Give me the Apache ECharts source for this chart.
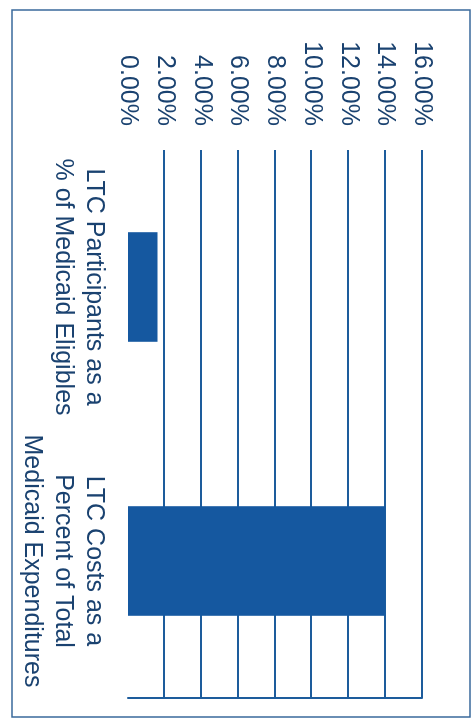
<!DOCTYPE html>
<html>
<head>
<meta charset="utf-8">
<script src="https://cdn.jsdelivr.net/npm/echarts@6/dist/echarts.min.js"></script>
<style>
  html, body { margin: 0; padding: 0; background: #ffffff; overflow: hidden; }
  body { width: 475px; height: 719px; position: relative; }
  #chart {
    position: absolute; left: 0; top: 0;
    width: 719px; height: 475px;
    transform-origin: 0 0;
    transform: translateX(475px) rotate(90deg);
  }
</style>
</head>
<body>
<div id="chart"></div>
<script>
const categories = [
  'LTC Participants as a\n% of Medicaid Eligibles',
  'LTC Costs as a\nPercent of Total\nMedicaid Expenditures'
];
const values = [1.6, 14.0];
const tickMin = 0, tickMax = 16, tickStep = 2;

const textColor = '#1a4270';
const lineColor = '#1d5c9c';
const barColor = '#1558a0';

const chart = echarts.init(document.getElementById('chart'), null, { renderer: 'canvas' });
chart.setOption({
  animation: false,
  backgroundColor: '#ffffff',
  grid: { left: 150, right: 21, top: 53, bottom: 128, containLabel: false },
  xAxis: {
    type: 'category',
    data: categories,
    axisLine: { show: false },
    axisTick: { show: false },
    axisLabel: {
      interval: 0,
      margin: 19,
      fontFamily: 'Liberation Sans, Arial, sans-serif',
      fontSize: 25,
      lineHeight: 31,
      color: textColor,
      align: 'center'
    }
  },
  yAxis: [{
    type: 'value',
    min: tickMin, max: tickMax, interval: tickStep,
    axisLine: { show: false },
    axisTick: { show: false },
    axisLabel: {
      margin: 24,
      fontFamily: 'Liberation Sans, Arial, sans-serif',
      fontSize: 25,
      color: textColor,
      formatter: v => v.toFixed(2) + '%'
    },
    splitLine: { show: true, showMinLine: false, lineStyle: { color: lineColor, width: 2 } }
  }, {
    type: 'value',
    position: 'right',
    min: tickMin, max: tickMax, interval: tickStep,
    axisLine: { show: true, lineStyle: { color: lineColor, width: 2 } },
    axisTick: { show: false },
    axisLabel: { show: false },
    splitLine: { show: false }
  }],
  series: [{
    type: 'bar',
    data: values,
    barWidth: '40%',
    itemStyle: { color: barColor },
    yAxisIndex: 0
  }],
  graphic: [{
    type: 'rect',
    silent: true,
    shape: { x: 10, y: 5, width: 707, height: 458 },
    style: { fill: 'none', stroke: '#3a6a9c', lineWidth: 1.5 }
  }]
});
</script>
</body>
</html>
